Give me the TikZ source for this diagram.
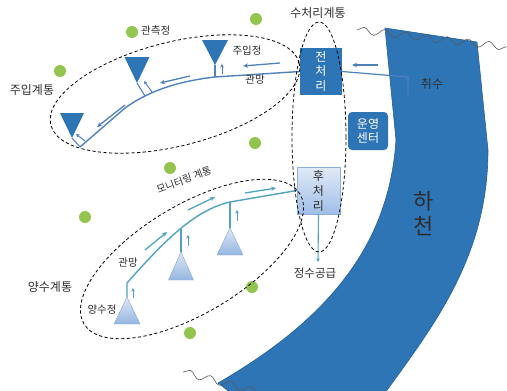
\documentclass[tikz,border=0pt]{standalone}
\usepackage{fontspec}
\newfontfamily\krfont{Noto Sans CJK KR}
\usetikzlibrary{arrows.meta,shapes.geometric,decorations.pathmorphing}
\definecolor{riverblue}{RGB}{46,117,182}
\definecolor{riveredge}{RGB}{36,96,156}
\definecolor{pipeblue}{RGB}{79,129,189}
\definecolor{pumpteal}{RGB}{80,163,190}
\definecolor{dotgreen}{RGB}{146,196,78}
\definecolor{labelgray}{RGB}{45,45,45}
\definecolor{wavegray}{RGB}{90,90,90}
\tikzset{
  lbl/.style={font=\krfont\fontsize{10.5}{12}\selectfont, text=labelgray, inner sep=0},
  syslbl/.style={font=\krfont\fontsize{12}{14}\selectfont, text=labelgray, inner sep=0},
  zone/.style={draw=black, dash pattern=on 3.2pt off 2.4pt, line width=0.8pt, ellipse, inner sep=0},
  obsdot/.style={circle, fill=dotgreen, minimum size=12pt, inner sep=0},
  plantbox/.style={rectangle, fill=riverblue, text=white, align=center, inner sep=0,
    font=\krfont\fontsize{12}{14.5}\selectfont},
  postbox/.style={rectangle, top color={rgb,255:red,225;green,234;blue,246}, bottom color={rgb,255:red,160;green,190;blue,232},
    draw={rgb,255:red,140;green,175;blue,220}, line width=0.5pt, text=labelgray, align=center, inner sep=0,
    font=\krfont\fontsize{12}{15}\selectfont},
  river/.style={fill=riverblue, draw=riveredge, line width=0.6pt},
  wave/.style={draw=wavegray, line width=0.6pt, decorate, decoration={snake, amplitude=3.5pt, segment length=21pt}},
  pipe/.style={draw=pipeblue, line width=1.4pt},
  flow/.style={draw=pipeblue, line width=1.3pt, -{Stealth[length=5pt,width=4.5pt]}},
  rise/.style={draw=pipeblue, line width=1pt, -{Stealth[length=3.5pt,width=3.5pt]}},
  pumppipe/.style={draw=pumpteal, line width=1.4pt},
  pumpflow/.style={draw=pumpteal, line width=1.3pt, -{Stealth[length=5pt,width=4.5pt]}},
  pumprise/.style={draw=pumpteal, line width=1pt, -{Stealth[length=3.5pt,width=3.5pt]}},
  injwell/.style={fill=riverblue},
  pumpwell/.style={top color={rgb,255:red,222;green,232;blue,245}, bottom color={rgb,255:red,150;green,182;blue,225},
    draw={rgb,255:red,130;green,165;blue,215}, line width=0.4pt}
}
\begin{document}
\begin{tikzpicture}[x=1pt,y=-1pt]
\useasboundingbox (0,0) rectangle (507,391);

% river band, cut off at the lower border
\begin{scope}
  \clip (0,0) rectangle (507,391);
  \path[river] (385,28) -- (477,42) -- (488,150)
    .. controls (488,260) and (430,330) .. (380,400) -- (240,400) -- (218,383)
    .. controls (345,310) and (390,230) .. (396,140) -- cycle;
  \path[wave] (183,372) -- (262,393);
\end{scope}
\path[wave] (357,30) -- (507,47);
\node[font=\krfont\fontsize{22}{25}\selectfont, text=labelgray, align=center, inner sep=0] (riverlbl) at (424,214) {하\\천};

% observation wells
\node[obsdot] (o1) at (132,32) {};
\node[obsdot] (o2) at (60,71) {};
\node[obsdot] (o3) at (256,19) {};
\node[obsdot] (o4) at (255,143) {};
\node[obsdot] (o5) at (170,168) {};
\node[obsdot] (o6) at (85,217) {};
\node[obsdot] (o7) at (252,287) {};
\node[obsdot] (o8) at (190,333) {};
\node[lbl, anchor=west] (obslbl) at (141,31) {관측정};

% treatment plant
\node[plantbox, minimum width=42pt, minimum height=47pt] (pre) at (321,71.5) {전\\처\\리};
\node[plantbox, minimum width=40pt, minimum height=38pt, rounded corners=4pt] (ops) at (368,131) {운영\\센터};
\node[postbox, minimum width=43pt, minimum height=47pt] (post) at (318.5,190.5) {후\\처\\리};

% intake from the river
\coordinate (ibend) at (408,77);
\coordinate (iend) at (408,95);
\draw[pipe, line width=1.2pt] (pre.east) -- (ibend) -- (iend);
\coordinate (ia) at (378,65);
\coordinate (ib) at (352,65);
\draw[flow] (ia) -- (ib);
\node[syslbl] (intakelbl) at (432,84) {취수};

% injection network
\coordinate (u1) at (72,138);
\coordinate (u2) at (137,83);
\coordinate (u3) at (215,65);
\fill[injwell] (u1) -- ++(-12,-25) -- ++(24,0) -- cycle;
\fill[injwell] (u2) -- ++(-12.5,-26) -- ++(25,0) -- cycle;
\fill[injwell] (u3) -- ++(-13,-25) -- ++(26,0) -- cycle;
\coordinate (uj1) at (80,147);
\coordinate (uj2) at (145,96);
\coordinate (uj3) at (215,77);
\draw[pipe] (pre.west) -- (uj3) .. controls (180,81) and (150,90) .. (125,108) -- (uj1);
\draw[pipe, line width=1.1pt] (uj1) -- (u1);
\draw[pipe, line width=1.1pt] (uj2) -- (u2);
\draw[pipe, line width=1.1pt] (uj3) -- (u3);
\draw[rise] (222,74) -- (222,64);
\draw[rise] (152,92) -- (144,81);
\draw[rise] (85,141) -- (76,134);
\draw[flow] (280,63) -- (243,66);
\draw[flow] (190,76) -- (160,83);
\draw[flow] (125,105) -- (97,127);
\node[lbl] (injwlbl) at (247,51) {주입정};
\node[lbl] (injpipelbl) at (255,80) {관망};

% pumping network
\coordinate (p1) at (127,297);
\coordinate (p2) at (181,252);
\coordinate (p3) at (230,228);
\path[pumpwell] (p1) -- ++(-13,27) -- ++(26,0) -- cycle;
\path[pumpwell] (p2) -- ++(-12.5,28) -- ++(25,0) -- cycle;
\path[pumpwell] (p3) -- ++(-13,27) -- ++(26,0) -- cycle;
\coordinate (pj2) at (181,229);
\coordinate (pj3) at (230,202);
\draw[pumppipe] (post.west) -- (pj3) .. controls (195,210) and (165,240) .. (127,283) -- (p1);
\draw[pumppipe, line width=1.1pt] (pj2) -- (p2);
\draw[pumppipe, line width=1.1pt] (pj3) -- (p3);
\draw[pumprise] (133,298) -- (133,288);
\draw[pumprise] (188,246) -- (188,235);
\draw[pumprise] (237,221) -- (237,210);
\draw[pumpflow] (145,250) -- (167,232);
\draw[pumpflow] (188,210) -- (215,197);
\draw[pumpflow] (245,193) -- (276,188);
\node[lbl] (pumppipelbl) at (128,263) {관망};
\node[lbl] (pumpwlbl) at (102,310) {양수정};

% supply
\coordinate (supply) at (318,262);
\draw[pumprise, line width=1.1pt] (post.south) -- (supply);
\node[syslbl, font=\krfont\fontsize{11.5}{14}\selectfont] (supplylbl) at (315,273) {정수공급};

% system boundaries
\node[zone, minimum width=256pt, minimum height=104pt, rotate=14] (injzone) at (175,94) {};
\node[zone, minimum width=252pt, minimum height=108pt, rotate=31] (monzone) at (192,259) {};
\node[zone, minimum width=54pt, minimum height=230pt] (wtzone) at (319,137) {};
\node[syslbl] (wtlbl) at (318,13) {수처리계통};
\node[syslbl] (injlbl) at (32,90) {주입계통};
\node[syslbl] (pumplbl) at (50,287) {양수계통};
\node[lbl, font=\krfont\fontsize{10}{12}\selectfont, rotate=20] (monlbl) at (184,180) {모니터링 계통};
\end{tikzpicture}
\end{document}
